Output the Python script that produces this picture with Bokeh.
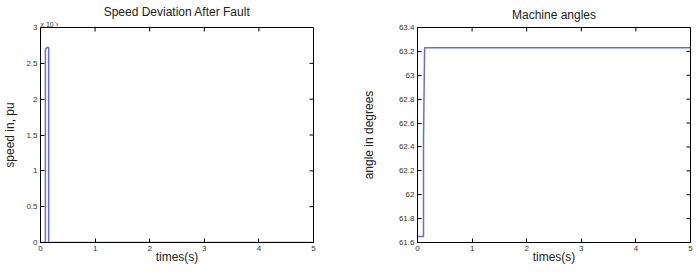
from bokeh.plotting import figure
from bokeh.layouts import row
from bokeh.models import Range1d, FixedTicker, Title
from bokeh.embed import file_html
from bokeh.resources import INLINE

# ---- data ----
speed_t = [0.0, 0.09, 0.09, 0.12, 0.15, 0.15, 5.0]
speed_dev = [0.0, 0.0, 0.00270, 0.00272, 0.00272, 0.0, 0.0]

angle_t = [0.0, 0.11, 0.11, 0.13, 5.0]
angle_deg = [61.65, 61.65, 62.45, 63.23, 63.23]

x_ticks = [0, 1, 2, 3, 4, 5]
speed_ticks = [0.0, 0.0005, 0.001, 0.0015, 0.002, 0.0025, 0.003]
speed_tick_labels = ["0", "0.5", "1", "1.5", "2", "2.5", "3"]
angle_ticks = [61.6, 61.8, 62.0, 62.2, 62.4, 62.6, 62.8, 63.0, 63.2, 63.4]
angle_tick_labels = ["61.6", "61.8", "62", "62.2", "62.4", "62.6", "62.8", "63", "63.2", "63.4"]

FONT = "Liberation Sans"
LINE_COLOR = "#6b6be0"
FRAME_W = 273
FRAME_H = 218
TICK_LEN = 4


def style(p, xr, yr, xt, yt, ylabels):
    p.title.text_font = FONT
    p.title.text_font_size = "12px"
    p.title.text_font_style = "normal"
    p.title.align = "center"
    p.title.text_color = "#222222"
    p.title.standoff = 0
    p.outline_line_color = "black"
    p.outline_line_width = 1
    p.xgrid.visible = False
    p.ygrid.visible = False
    for ax in p.xaxis + p.yaxis:
        ax.major_tick_in = TICK_LEN
        ax.major_tick_out = 0
        ax.minor_tick_line_color = None
        ax.axis_line_color = "black"
        ax.major_label_text_font = FONT
        ax.major_label_text_font_size = "8px"
        ax.major_label_text_color = "#333333"
        ax.major_label_standoff = 3
        ax.axis_label_text_font = FONT
        ax.axis_label_text_font_size = "12px"
        ax.axis_label_text_font_style = "normal"
        ax.axis_label_text_color = "#222222"
        ax.axis_label_standoff = 0
    p.xaxis[0].ticker = FixedTicker(ticks=xt)
    p.xaxis[0].axis_label_standoff = -4
    p.yaxis[0].ticker = FixedTicker(ticks=yt)
    p.yaxis[0].major_label_overrides = {v: s for v, s in zip(yt, ylabels)}
    # inward ticks on the top and right edges of the box
    x0, x1 = xr
    y0, y1 = yr
    dy = (y1 - y0) * TICK_LEN / FRAME_H
    dx = (x1 - x0) * TICK_LEN / FRAME_W
    p.segment(x0=xt, x1=xt, y0=[y1] * len(xt), y1=[y1 - dy] * len(xt), line_color="black", line_width=1)
    p.segment(x0=[x1] * len(yt), x1=[x1 - dx] * len(yt), y0=yt, y1=yt, line_color="black", line_width=1)


p1 = figure(width=348, height=274, output_backend="svg", toolbar_location=None,
            title="Speed Deviation After Fault",
            x_range=Range1d(0, 5), y_range=Range1d(0, 0.003),
            min_border_left=40, min_border_right=35, min_border_top=0, min_border_bottom=32)
p1.line(speed_t, speed_dev, line_color=LINE_COLOR, line_width=1.5)
p1.xaxis.axis_label = "times(s)"
p1.yaxis.axis_label = "speed in, pu"
style(p1, (0, 5), (0, 0.003), x_ticks, speed_ticks, speed_tick_labels)
p1.yaxis[0].axis_label_standoff = 6
p1.add_layout(Title(text="x 10⁻³", align="left", text_font=FONT, text_font_size="7px",
                    text_font_style="normal", text_color="#333333", standoff=0, offset=0), "above")

p2 = figure(width=348, height=274, output_backend="svg", toolbar_location=None,
            title="Machine angles",
            x_range=Range1d(0, 5), y_range=Range1d(61.6, 63.4),
            min_border_left=69, min_border_right=6, min_border_top=0, min_border_bottom=32)
p2.line(angle_t, angle_deg, line_color=LINE_COLOR, line_width=1.5)
p2.xaxis.axis_label = "times(s)"
p2.yaxis.axis_label = "angle in degrees"
style(p2, (0, 5), (61.6, 63.4), x_ticks, angle_ticks, angle_tick_labels)
p2.title.standoff = 11
p2.yaxis[0].axis_label_standoff = 20

layout = row(p1, p2)
open("out.html", "w").write(file_html(layout, INLINE))
